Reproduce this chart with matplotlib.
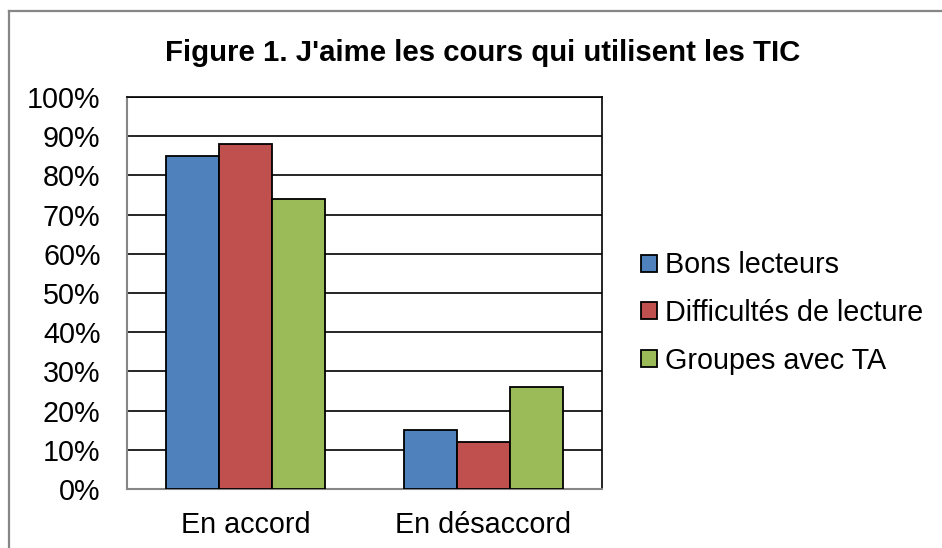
import matplotlib
matplotlib.use("Agg")
import matplotlib.pyplot as plt
import numpy as np
from matplotlib.lines import Line2D
from matplotlib.patches import Patch

categories = ["En accord", "En désaccord"]
series_names = ["Bons lecteurs", "Difficultés de lecture", "Groupes avec TA"]
bons = [85, 15]
difficultes = [88, 12]
groupes = [74, 26]
values = [bons, difficultes, groupes]
colors = ["#4F81BD", "#C0504D", "#9BBB59"]
yticks = list(range(0, 101, 10))
ytick_labels = [f"{v}%" for v in yticks]
title = "Figure 1. J'aime les cours qui utilisent les TIC"

plt.rcParams['font.family'] = ['Liberation Sans', 'DejaVu Sans']

W, H = 942, 548
fig = plt.figure(figsize=(W / 100, H / 100), dpi=100)
fig.patch.set_facecolor("white")

# outer border (top and left visible; right and bottom run off the image)
bx, by = 9 / W, 1 - 11 / H
fig.add_artist(Line2D([bx, 1.01], [by, by], transform=fig.transFigure,
                      color="#868686", linewidth=1.6))
fig.add_artist(Line2D([bx, bx], [by, -0.01], transform=fig.transFigure,
                      color="#868686", linewidth=1.6))

ax = fig.add_axes([127 / W, 1 - 489 / H, (602 - 127) / W, (489 - 97) / H])
x = np.arange(len(categories))
bw = 0.223
for i, (vals, c, name) in enumerate(zip(values, colors, series_names)):
    ax.bar(x + (i - 1) * bw, vals, width=bw, color=c, edgecolor="black",
           linewidth=1.3, label=name, zorder=3)

ax.set_xlim(-0.5, 1.5)
ax.set_ylim(0, 100)
ax.set_yticks(yticks)
ax.set_yticklabels(ytick_labels)
ax.set_xticks(x)
ax.set_xticklabels(categories)
ax.tick_params(axis="both", length=0, labelsize=20.7)
ax.tick_params(axis="y", pad=19)
ax.tick_params(axis="x", pad=15.5)
ax.yaxis.grid(True, color="black", linewidth=1.2, zorder=0)
ax.set_axisbelow(True)
for s in ["top", "right"]:
    ax.spines[s].set_color("black")
    ax.spines[s].set_linewidth(1.2)
for s in ["left", "bottom"]:
    ax.spines[s].set_color("#868686")
    ax.spines[s].set_linewidth(1.5)

fig.text(483 / W, 1 - 53 / H, title, ha="center", va="center",
         fontsize=21.2, fontweight="bold")

handles = [Patch(facecolor=c, edgecolor="black", linewidth=1.3) for c in colors]
fig.legend(handles, series_names, loc="center left",
           bbox_to_anchor=(641 / W, 1 - 313 / H), frameon=False,
           fontsize=20.7, handlelength=0.55, handleheight=0.55,
           handletextpad=0.3, labelspacing=0.68, borderaxespad=0,
           borderpad=0)

fig.savefig("out.png", dpi=100)
